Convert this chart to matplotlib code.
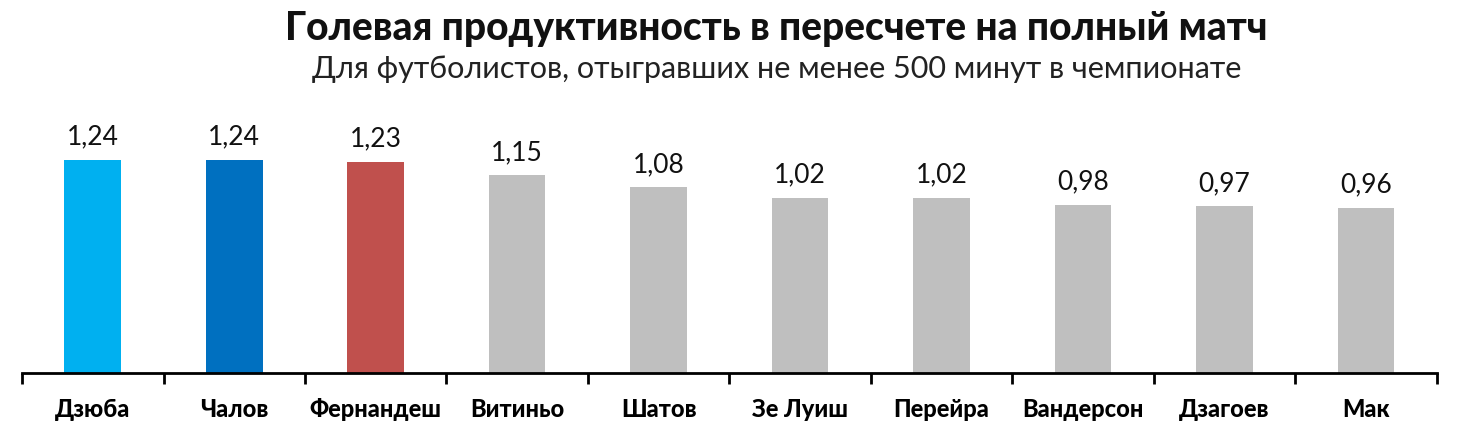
import matplotlib
matplotlib.use("Agg")
import matplotlib.pyplot as plt
import numpy as np

players = ["Дзюба", "Чалов", "Фернандеш", "Витиньо", "Шатов", "Зе Луиш",
           "Перейра", "Вандерсон", "Дзагоев", "Мак"]
goals_per_match = [1.24, 1.24, 1.23, 1.15, 1.08, 1.02, 1.02, 0.98, 0.97, 0.96]
colors = ["#00B0F0", "#0070C0", "#C0504D"] + ["#BFBFBF"] * 7

plt.rcParams["font.family"] = ["Lato", "DejaVu Sans"]

fig = plt.figure(figsize=(14.6, 4.42), dpi=100)
ax = fig.add_axes([0.0151, 0.156, 0.969, 0.595])

x = np.arange(len(players))
bars = ax.bar(x, goals_per_match, width=0.4, color=colors)
for xi, v in zip(x, goals_per_match):
    ax.text(xi, v + 0.06, f"{v:.2f}".replace(".", ","), ha="center", va="bottom",
            fontsize=19, color="#111111")

ax.set_xlim(-0.5, len(players) - 0.5)
ax.set_ylim(0, 1.53)
for s in ["top", "right", "left"]:
    ax.spines[s].set_visible(False)
ax.spines["bottom"].set_linewidth(2)
ax.set_yticks([])
ax.set_xticks(np.arange(len(players) + 1) - 0.5, minor=False)
ax.set_xticklabels([])
ax.tick_params(axis="x", which="major", length=8, width=2, direction="out")
ax.set_xticks(x, minor=True)
ax.set_xticklabels(players, minor=True, fontsize=17, fontweight="black")
ax.tick_params(axis="x", which="minor", length=0, pad=18)

fig.text(0.532, 0.935, "Голевая продуктивность в пересчете на полный матч",
         ha="center", va="center", fontsize=28, fontweight="black", color="#111111")
fig.text(0.532, 0.845, "Для футболистов, отыгравших не менее 500 минут в чемпионате",
         ha="center", va="center", fontsize=22, color="#222222")

fig.savefig("out.png", dpi=100)
